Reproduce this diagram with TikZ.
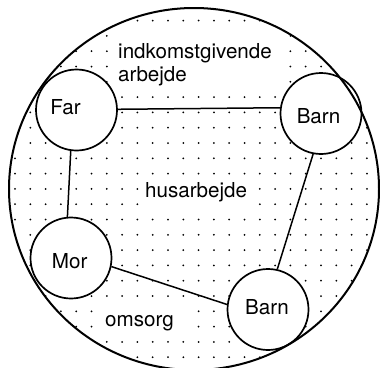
\documentclass[tikz,border=0pt]{standalone}
\usepackage{fontspec}
\setmainfont{TeX Gyre Heros}
\begin{document}
\begin{tikzpicture}[x=1pt,y=-1pt,
  circ/.style={circle,draw,line width=1.7pt,fill=white,minimum size=81pt,inner sep=0pt},
  conn/.style={line width=1.5pt},
  lbl/.style={font=\fontsize{20.6}{23}\selectfont,inner sep=0pt,anchor=base west},
  lblc/.style={font=\fontsize{20.6}{23}\selectfont,inner sep=0pt},
  outline/.style={line width=2pt}]
\useasboundingbox (0,0) rectangle (380,367);
% dotted background
\begin{scope}
  \clip (194,189) ellipse [x radius=185, y radius=181];
  \foreach \i in {0,...,24}{
    \foreach \j in {0,...,23}{
      \fill (15+15.3*\i,20.6+15.3*\j) circle[radius=1];
    }
  }
\end{scope}
% white areas behind texts
\fill[white] (112,28) rectangle (285,90);
\fill[white] (145,180) rectangle (252,212);
\fill[white] (98,304) rectangle (192,334);
% texts
\node[lbl] (t1) at (118,58) {indkomstgivende};
\node[lbl] (t2) at (118,81) {arbejde};
\node[lbl] (t3) at (145,197) {husarbejde};
\node[lbl] (t4) at (105,326) {omsorg};
% persons
\node[circ,label={[lblc,xshift=-11pt,yshift=3pt]center:Far}] (far) at (76.5,110) {};
\node[circ,label={[lblc,xshift=-2.5pt,yshift=-3pt]center:Barn}] (barnA) at (321,113.5) {};
\node[circ,label={[lblc,xshift=-1.3pt,yshift=-3pt]center:Mor}] (mor) at (71,258) {};
\node[circ,label={[lblc,xshift=-1pt,yshift=2pt]center:Barn}] (barnB) at (268,309.5) {};
% connectors
\draw[conn] (far.1) -- (barnA.172);
\draw[conn] (far.-98) -- (mor.95);
\draw[conn] (barnA.-101) -- (barnB.77);
\draw[conn] (mor.-12) -- (barnB.173);
% outer outline
\draw[outline] (194,189) ellipse [x radius=185, y radius=181];
\end{tikzpicture}
\end{document}
